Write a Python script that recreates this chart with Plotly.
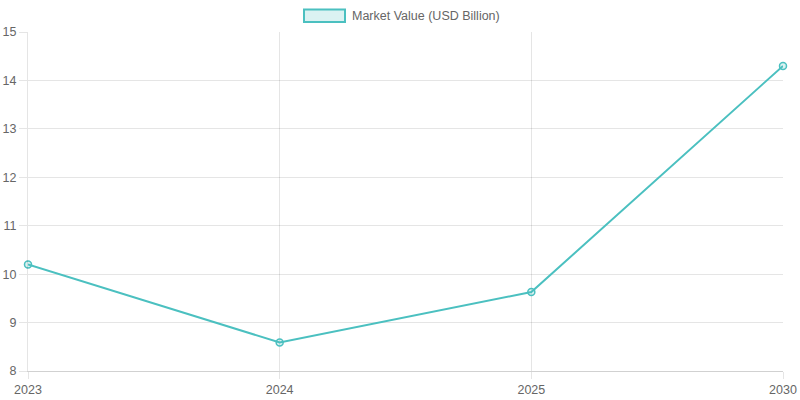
import plotly.graph_objects as go

# Market value data
years = ["2023", "2024", "2025", "2030"]
market_value = [10.2, 8.59, 9.63, 14.3]
series_name = "Market Value (USD Billion)"

TEAL = "rgb(75,192,192)"
TEAL_FILL = "rgba(75,192,192,0.2)"
GRID = "rgba(0,0,0,0.1)"
FONT = "Liberation Sans, Arial, sans-serif"

W, H = 800, 400
ML, MR, MT, MB = 28, 17, 32, 29


def px_x(x):
    return (x - ML) / (W - ML - MR)


def px_y(y):
    return (H - MB - y) / (H - MT - MB)


fig = go.Figure()
fig.add_trace(go.Scatter(
    x=years, y=market_value, name=series_name, mode="lines+markers",
    line=dict(color=TEAL, width=2),
    marker=dict(size=7, color=TEAL_FILL, line=dict(color=TEAL, width=1.5)),
    cliponaxis=False, showlegend=False,
))

# chart.js style legend box
fig.add_shape(type="rect", xref="paper", yref="paper",
              x0=px_x(304), x1=px_x(345), y0=px_y(22), y1=px_y(9.5),
              line=dict(color=TEAL, width=2), fillcolor=TEAL_FILL)
fig.add_annotation(text=series_name, xref="paper", yref="paper",
                   x=px_x(350), y=px_y(15.5), xanchor="left", yanchor="middle",
                   showarrow=False, font=dict(size=12.5, color="#666", family=FONT))

fig.update_xaxes(type="category", showgrid=True, gridcolor=GRID, gridwidth=1,
                 ticks="outside", ticklen=7, tickcolor=GRID,
                 showline=True, linecolor="rgba(0,0,0,0.18)", linewidth=1,
                 tickfont=dict(size=12.5, color="#666", family=FONT),
                 range=[0, 3], zeroline=False, fixedrange=True, automargin=False)
fig.update_yaxes(range=[8, 15], dtick=1, showgrid=True, gridcolor=GRID, gridwidth=1,
                 ticks="outside", ticklen=8, tickcolor=GRID,
                 showline=True, linecolor=GRID, linewidth=1,
                 tickfont=dict(size=12.5, color="#666", family=FONT),
                 zeroline=False, fixedrange=True, automargin=False)

fig.update_layout(
    width=W, height=H,
    margin=dict(l=ML, r=MR, t=MT, b=MB),
    plot_bgcolor="white", paper_bgcolor="white",
    font=dict(family=FONT, color="#666"),
)

# drop the page's default 8px body margin so the figure sits at 0,0
fig.write_html("out.html", config={"displayModeBar": False},
               post_script="document.body.style.margin='0';")
